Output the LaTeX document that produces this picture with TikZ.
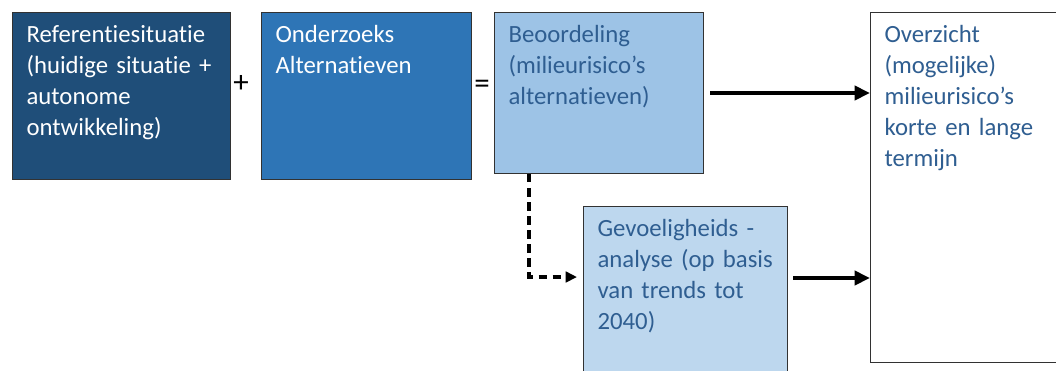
\documentclass[tikz,border=0pt]{standalone}
\usepackage{fontspec}
\setmainfont{Carlito}[Ligatures=NoCommon]
\usetikzlibrary{arrows.meta,positioning}
\definecolor{RefDark}    {RGB}{ 31,  78, 121}
\definecolor{AltMid}     {RGB}{ 46, 117, 182}
\definecolor{BeoLight}   {RGB}{157, 195, 230}
\definecolor{GevLight}   {RGB}{189, 215, 238}
\definecolor{TextBlue}   {RGB}{ 47,  94, 145}
\definecolor{EdgeGrey}   {RGB}{ 50,  50,  50}
\tikzset{
  blok/.style={draw=EdgeGrey, line width=0.7pt, anchor=north west,
    align=left, inner xsep=10pt, inner ysep=4pt, text height=17.3pt,
    font=\fontsize{17.6}{22}\selectfont},
  teken/.style={font=\fontsize{22}{24}\selectfont, inner sep=0pt},
  pijl/.style={line width=3.2pt, -{Triangle[length=11pt,width=10pt]}},
  stippijl/.style={line width=2.4pt, dash pattern=on 6pt off 4pt,
    -{Triangle[length=8pt,width=7.5pt]}}
}
\begin{document}
\begin{tikzpicture}[x=0.025cm,y=-0.025cm]
  \useasboundingbox (0,0) rectangle (1056,370);
  % top row
  \node[blok, fill=RefDark, text=white, text width=135.1pt, text depth=93.5pt]
    (ref) at (12,12)
    {Referentiesituatie\\(huidige situatie +\\autonome\\ontwikkeling)};
  \node[teken] (plus) at (241,84) {+};
  \node[blok, fill=AltMid, text=white, text width=129.4pt, text depth=93.5pt]
    (alt) at (261,12)
    {Onderzoeks\\Alternatieven};
  \node[teken] (is) at (482,87) {=};
  \node[blok, fill=BeoLight, text=TextBlue, text width=128.7pt, text depth=89.2pt]
    (beo) at (494,12)
    {Beoordeling\\(milieurisico’s\\alternatieven)};
  \node[blok, fill=white, text=TextBlue, text width=180pt, text depth=223.7pt]
    (over) at (870,12)
    {Overzicht\\(mogelijke)\\milieurisico’s\\korte en lange\\termijn};
  % lower box
  \node[blok, fill=GevLight, text=TextBlue, text width=125.1pt, text depth=102.7pt]
    (gev) at (583,206)
    {Gevoeligheids -\\analyse (op basis\\van trends tot\\2040)};
  % connectors
  \coordinate (gevuit) at ([yshift=-51.2pt]gev.north east);
  \draw[pijl, shorten <=4.3pt] (beo.east) -- (beo.east -| over.west);
  \draw[pijl, shorten <=3.6pt] (gevuit) -- (gevuit -| over.west);
  \draw[stippijl, shorten >=4.3pt]
    ([xshift=24.9pt]beo.south west) |- ([yshift=-50.5pt]gev.north west);
\end{tikzpicture}
\end{document}
